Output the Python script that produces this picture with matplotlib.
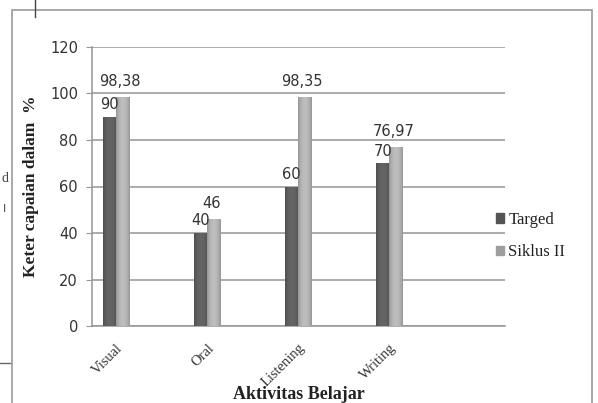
import numpy as np
import matplotlib
matplotlib.use("Agg")
import matplotlib.pyplot as plt
from matplotlib.patches import Rectangle
from matplotlib.lines import Line2D

categories = ["Visual", "Oral", "Listening", "Writing"]
targed = [90, 40, 60, 70]
siklus = [98.38, 46, 98.35, 76.97]
targed_labels = ["90", "40", "60", "70"]
siklus_labels = ["98,38", "46", "98,35", "76,97"]
series_names = ["Targed", "Siklus II"]
yticks = [0, 20, 40, 60, 80, 100, 120]

fig = plt.figure(figsize=(5.98, 4.03), dpi=100)
fig.patch.set_facecolor("white")

# outer chart frame
frame = Rectangle((12 / 598, -0.01), (592 - 12) / 598, (403 - 10) / 403 + 0.01,
                  transform=fig.transFigure, fill=False, edgecolor="#9a9a9a", lw=1.2)
fig.add_artist(frame)
# scan artifacts
fig.add_artist(Line2D([35 / 598, 35 / 598], [1, 1 - 17 / 403], transform=fig.transFigure, color="#444", lw=1))
fig.add_artist(Line2D([0, 10 / 598], [1 - 363 / 403, 1 - 363 / 403], transform=fig.transFigure, color="#666", lw=1))
fig.text(5 / 598, 1 - 179 / 403, "d", fontsize=10, family="Liberation Serif", color="#444", ha="center", va="center")
fig.text(5 / 598, 1 - 209 / 403, "I", fontsize=8, family="DejaVu Sans", color="#444", ha="center", va="center")

ax = fig.add_axes([92 / 598, 1 - 326 / 403, 413 / 598, 279 / 403])
x = np.arange(len(categories))
w = 0.145

ax.set_yticks(yticks)
ax.yaxis.grid(True, color="#959595", lw=1.1)
ax.set_axisbelow(True)
for s in ["top", "right"]:
    ax.spines[s].set_visible(False)
ax.spines["left"].set_color("#959595")
ax.spines["bottom"].set_color("#959595")
ax.spines["left"].set_linewidth(1.1)
ax.spines["bottom"].set_linewidth(1.1)
ax.tick_params(axis="y", length=4, color="#959595", labelsize=10.5, labelcolor="#333333", pad=6)
ax.tick_params(axis="x", length=0, pad=11)
ax.set_xticks(x)
ax.set_xticklabels(categories, rotation=45, ha="right", rotation_mode="anchor",
                   fontsize=10.5, family="Liberation Serif", color="#333333")


def cyl_bars(xs, vals, base_rgb):
    bars = ax.bar(xs, vals, width=w, color=base_rgb, edgecolor="none", zorder=3)
    grad = np.linspace(0, 1, 64)
    prof = np.sin(np.pi * (grad * 0.9 + 0.05)) ** 0.6
    img = np.zeros((2, 64, 3))
    for c in range(3):
        img[:, :, c] = np.clip(np.array(base_rgb)[c] * (0.8 + 0.4 * prof), 0, 1)
    for b in bars:
        x0, y0 = b.get_x(), b.get_y()
        im = ax.imshow(img, extent=(x0, x0 + b.get_width(), y0, y0 + b.get_height()),
                       aspect="auto", zorder=3.5, interpolation="bilinear")
        im.set_clip_path(b)
    return bars


cyl_bars(x - w / 2, targed, (0.33, 0.33, 0.33))
cyl_bars(x + w / 2, siklus, (0.62, 0.62, 0.62))
ax.set_xlim(-0.265, 4.27)
ax.set_ylim(0, 120)

for i in range(len(categories)):
    ax.text(x[i] - w / 2, targed[i] + 2.0, targed_labels[i], ha="center", va="bottom",
            fontsize=10.5, color="#333333", zorder=5)
    ax.text(x[i] + w / 2 - 0.03, siklus[i] + 3.5, siklus_labels[i], ha="center", va="bottom",
            fontsize=10.5, color="#333333", zorder=5)

ax.set_ylabel("Keter capaian dalam  %", family="Liberation Serif", fontweight="bold",
              fontsize=12.5, color="#222222")
ax.yaxis.set_label_coords(-0.128, 0.5)
ax.set_xlabel("Aktivitas Belajar", family="Liberation Serif", fontweight="bold",
              fontsize=13, color="#222222")
ax.xaxis.set_label_coords(0.5, -0.215)

handles = [Rectangle((0, 0), 1, 1, color=(0.33, 0.33, 0.33)),
           Rectangle((0, 0), 1, 1, color=(0.62, 0.62, 0.62))]
leg = fig.legend(handles, series_names, loc="center left", bbox_to_anchor=(496 / 598, 1 - 236 / 403),
                 frameon=False, prop={"family": "Liberation Serif", "size": 12},
                 handlelength=0.5, handleheight=0.5, handletextpad=0.25, labelspacing=1.0,
                 borderpad=0, borderaxespad=0)
for t in leg.get_texts():
    t.set_color("#222222")

fig.savefig("out.png", dpi=100, facecolor="white")
